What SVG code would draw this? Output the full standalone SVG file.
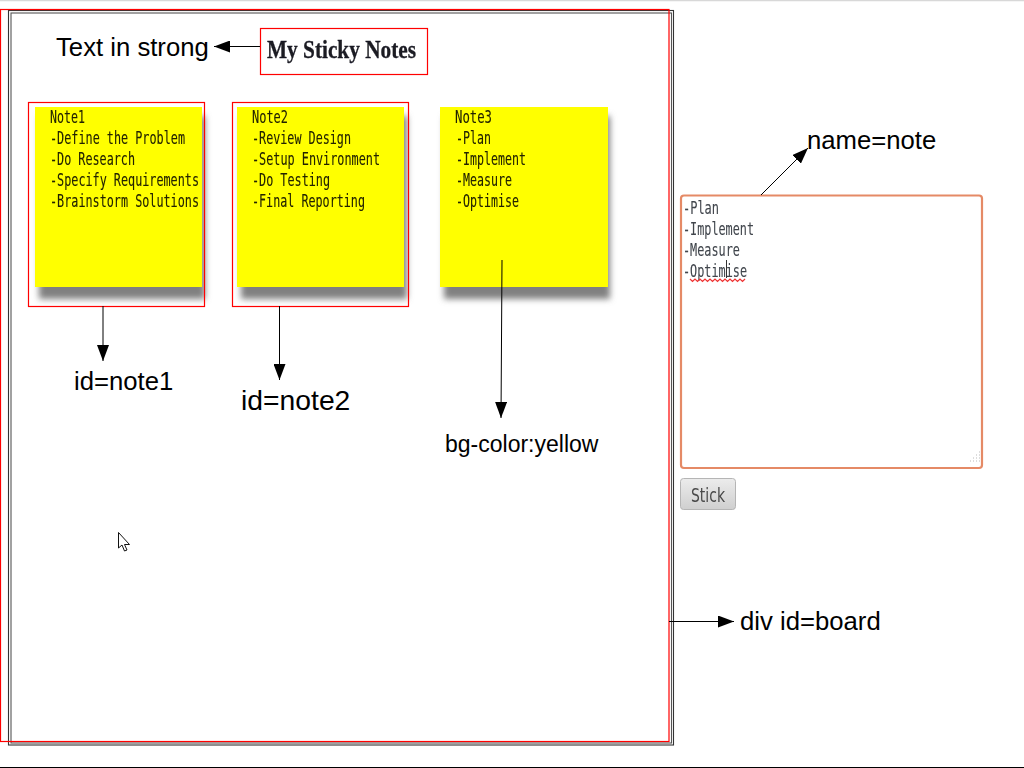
<svg xmlns="http://www.w3.org/2000/svg" width="1024" height="768" viewBox="0 0 1024 768">
<style>
.lbl{font-family:"Liberation Sans",Arial,sans-serif;fill:#000}
.mono{font-family:"DejaVu Sans Mono",monospace;font-size:16.800px;fill:#222200;stroke:#222200;stroke-width:.1;filter:url(#soft)}
.ta{fill:#40454c;stroke:#40454c}
.red{fill:none;stroke:#f00;stroke-width:1.2}
.sticky{fill:#ff0}
.shadow{fill:#808080;filter:url(#blur)}
.conn{stroke:#000;stroke-width:1;fill:none}
</style>
<defs>
<filter id="blur" x="-10%" y="-10%" width="120%" height="120%"><feGaussianBlur stdDeviation="3"/></filter>
<filter id="soft" x="-5%" y="-20%" width="110%" height="140%"><feGaussianBlur stdDeviation="0.3"/></filter>
<marker id="arrow" markerUnits="userSpaceOnUse" markerWidth="16" markerHeight="12" refX="16" refY="6" orient="auto"><path d="M0 0L16 6L0 12Z" fill="#000"/></marker>
<linearGradient id="btn" x1="0" y1="0" x2="0" y2="1"><stop offset="0" stop-color="#ececec"/><stop offset="1" stop-color="#cfcfcf"/></linearGradient>
</defs>
<rect width="1024" height="768" fill="#fff"/>
<path d="M0 .5H1024" stroke="#d8d8d8" stroke-width="1.500"/>
<path d="M0 767.500H1024" stroke="#000" stroke-width="1"/>
<g id="board">
<rect x="8.500" y="10.500" width="665" height="734.500" fill="none" stroke="#333" stroke-width="1.100"/>
<rect x="11" y="13" width="660.500" height="730" fill="none" stroke="#555" stroke-width="1.100"/>
<rect x="0.500" y="9.500" width="668.500" height="732" class="red"/>
</g>
<g id="title">
<rect x="260.500" y="28.500" width="167" height="46" class="red"/>
<text x="267" y="58" font-family="Liberation Serif,serif" font-weight="bold" font-size="25" fill="#1a1a22" stroke="#1a1a22" stroke-width=".3" textLength="149" lengthAdjust="spacingAndGlyphs" filter="url(#soft)">My Sticky Notes</text>
</g>
<g id="note1">
<rect x="39" y="116" width="166" height="183" class="shadow"/>
<rect x="35" y="107" width="167" height="180" class="sticky"/>
<rect x="28.500" y="102.500" width="176" height="204" class="red"/>
<text class="mono" x="50" y="123" textLength="35" lengthAdjust="spacingAndGlyphs">Note1</text>
<text class="mono" x="50" y="144" textLength="135" lengthAdjust="spacingAndGlyphs">-Define the Problem</text>
<text class="mono" x="50" y="165" textLength="85" lengthAdjust="spacingAndGlyphs">-Do Research</text>
<text class="mono" x="50" y="186" textLength="149" lengthAdjust="spacingAndGlyphs">-Specify Requirements</text>
<text class="mono" x="50" y="206.500" textLength="149" lengthAdjust="spacingAndGlyphs">-Brainstorm Solutions</text>
</g>
<g id="note2">
<rect x="241" y="116" width="166" height="183" class="shadow"/>
<rect x="237" y="107" width="167" height="180" class="sticky"/>
<rect x="232.500" y="102.500" width="176" height="204" class="red"/>
<text class="mono" x="252" y="123" textLength="36" lengthAdjust="spacingAndGlyphs">Note2</text>
<text class="mono" x="252" y="144" textLength="99" lengthAdjust="spacingAndGlyphs">-Review Design</text>
<text class="mono" x="252" y="165" textLength="128" lengthAdjust="spacingAndGlyphs">-Setup Environment</text>
<text class="mono" x="252" y="186" textLength="78" lengthAdjust="spacingAndGlyphs">-Do Testing</text>
<text class="mono" x="252" y="206.500" textLength="113" lengthAdjust="spacingAndGlyphs">-Final Reporting</text>
</g>
<g id="note3">
<rect x="444" y="116" width="166" height="183" class="shadow"/>
<rect x="440" y="107" width="168" height="180" class="sticky"/>
<text class="mono" x="455" y="123" textLength="37" lengthAdjust="spacingAndGlyphs">Note3</text>
<text class="mono" x="456" y="144" textLength="35" lengthAdjust="spacingAndGlyphs">-Plan</text>
<text class="mono" x="456" y="165" textLength="70" lengthAdjust="spacingAndGlyphs">-Implement</text>
<text class="mono" x="456" y="186" textLength="56" lengthAdjust="spacingAndGlyphs">-Measure</text>
<text class="mono" x="456" y="206.500" textLength="63" lengthAdjust="spacingAndGlyphs">-Optimise</text>
</g>
<g id="textarea">
<rect x="681" y="195.500" width="301" height="272.500" rx="3" fill="#fff" stroke="#e58a66" stroke-width="2.200"/>
<text class="mono ta" x="683" y="213.500" textLength="36" lengthAdjust="spacingAndGlyphs">-Plan</text>
<text class="mono ta" x="683" y="234.500" textLength="71" lengthAdjust="spacingAndGlyphs">-Implement</text>
<text class="mono ta" x="683" y="255.500" textLength="57" lengthAdjust="spacingAndGlyphs">-Measure</text>
<text class="mono ta" x="683" y="276.500" textLength="64" lengthAdjust="spacingAndGlyphs">-Optimise</text>
<path d="M690 279l2.500 2.500 2.500-2.500 2.500 2.500 2.500-2.500 2.500 2.500 2.500-2.500 2.500 2.500 2.500-2.500 2.500 2.500 2.500-2.500 2.500 2.500 2.500-2.500 2.500 2.500 2.500-2.500 2.500 2.500 2.500-2.500 2.500 2.500 2.500-2.500 2.500 2.500 2.500-2.500 2.500 2.500 2.500-2.500" fill="none" stroke="#e33" stroke-width="1.200"/>
<path d="M726.500 260V278" stroke="#333" stroke-width="1"/>
<path d="M979 452h1M976 455h1M979 455h1M973 458h1M976 458h1M979 458h1M970 461h1M973 461h1M976 461h1M979 461h1" stroke="#bbb" stroke-width="1"/>
</g>
<g id="button">
<rect x="680.500" y="478.500" width="55" height="31" rx="3" fill="url(#btn)" stroke="#b5b5b5"/>
<text x="691" y="501.500" font-family="DejaVu Sans,sans-serif" font-size="19" fill="#4a4a4a" textLength="34" lengthAdjust="spacingAndGlyphs" filter="url(#soft)">Stick</text>
</g>
<g id="cursor">
<path d="M118.500 532.500V548L122 545L124.500 551L127 550L124.500 544.500L129.500 544.500Z" fill="#fff" stroke="#111" stroke-width="1"/>
</g>
<g id="connectors">
<path class="conn" d="M260 46.500H214" marker-end="url(#arrow)"/>
<path class="conn" d="M103 306V361" marker-end="url(#arrow)"/>
<path class="conn" d="M279.500 306V380" marker-end="url(#arrow)"/>
<path class="conn" d="M502 260L501 418" marker-end="url(#arrow)"/>
<path class="conn" d="M761 195L808 148" marker-end="url(#arrow)"/>
<path class="conn" d="M669 621.500H734" marker-end="url(#arrow)"/>
</g>
<g id="labels">
<text class="lbl" x="56" y="56" font-size="25.700">Text in strong</text>
<text class="lbl" x="74" y="390" font-size="25.700">id=note1</text>
<text class="lbl" x="241" y="410" font-size="28.300">id=note2</text>
<text class="lbl" x="445" y="452" font-size="23">bg-color:yellow</text>
<text class="lbl" x="807" y="149" font-size="25.700">name=note</text>
<text class="lbl" x="740" y="630" font-size="25.700">div id=board</text>
</g>
</svg>
